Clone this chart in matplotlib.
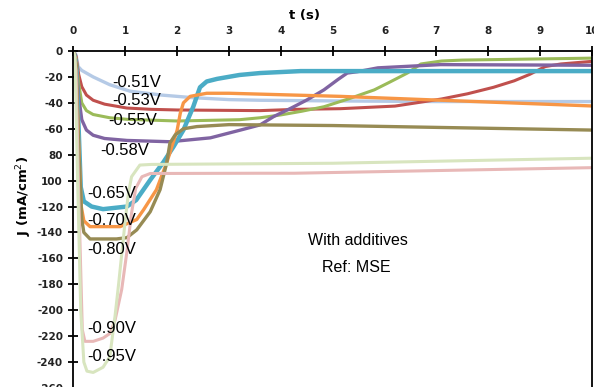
import matplotlib
matplotlib.use('Agg')
import matplotlib.pyplot as plt

# Current density transients J(t) at several potentials
t_051 = [0, 0.05, 0.09, 0.16, 0.38, 0.7, 1.09, 1.7, 2.3, 3.0, 3.6, 5.0, 7.0, 10.0]
j_051 = [0, -3, -12, -15, -20, -26, -31, -34, -36, -37.5, -38, -38.5, -39, -39]

t_053 = [0, 0.05, 0.1, 0.16, 0.25, 0.38, 0.6, 1.03, 1.5, 2.0, 3.6, 4.3, 5.15, 6.2,
         7.1, 7.6, 8.1, 8.5, 8.8, 9.1, 9.4, 10]
j_053 = [0, -4, -18, -27.5, -34, -38, -41, -44, -45, -45.5, -46, -45, -44.5, -42.5,
         -37, -33, -28, -23, -18, -12, -10, -8]

t_055 = [0, 0.05, 0.1, 0.16, 0.25, 0.38, 0.7, 1.03, 2.0, 3.2, 3.6, 4.0, 4.4, 4.83,
         5.3, 5.8, 6.1, 6.44, 6.7, 7.1, 7.5, 10]
j_055 = [0, -6, -25, -40, -46, -49, -51.5, -52.7, -54, -53, -51.5, -49.3, -46.5, -43,
         -37, -30, -24, -17, -10, -7.7, -7, -5.5]

t_058 = [0, 0.05, 0.1, 0.16, 0.25, 0.38, 0.6, 1.03, 1.86, 2.64, 3.22, 3.6, 3.86, 4.2,
         4.5, 4.83, 5.1, 5.28, 5.47, 5.87, 7.08, 10]
j_058 = [0, -8, -35, -53, -61, -65, -67.5, -69, -70, -67, -61, -57, -50.6, -44,
         -37.8, -30, -22, -17, -16, -13, -10.5, -11]

t_065 = [0, 0.05, 0.1, 0.14, 0.2, 0.35, 0.57, 1.03, 1.21, 1.48, 1.73, 1.93, 2.12,
         2.31, 2.44, 2.57, 2.77, 3.2, 3.6, 4.38, 10]
j_065 = [0, -10, -60, -105, -116, -120, -122, -120, -115, -99.5, -86, -73.8, -61,
         -43, -28, -23.5, -21.5, -18.5, -17, -15.5, -15.5]

t_070 = [0, 0.05, 0.1, 0.15, 0.2, 0.32, 0.9, 1.22, 1.35, 1.6, 1.8, 2.0, 2.06, 2.12,
         2.25, 2.57, 3.0, 5.15, 7.1, 10]
j_070 = [0, -10, -70, -120, -131, -135.5, -135.5, -130, -122.6, -107, -86, -61, -48,
         -40, -35, -32.6, -32.6, -35, -38, -42.4]

t_080 = [0, 0.05, 0.1, 0.16, 0.2, 0.32, 0.83, 1.03, 1.22, 1.48, 1.67, 1.8, 1.86, 1.96,
         2.12, 2.38, 3.0, 5.0, 7.1, 10]
j_080 = [0, -10, -75, -130, -140, -145, -145, -144, -138, -124, -107, -86, -71, -64.8,
         -60, -58.3, -56.8, -57.5, -59, -61]

t_090 = [0, 0.05, 0.1, 0.17, 0.22, 0.38, 0.57, 0.7, 0.8, 0.93, 1.03, 1.12, 1.2, 1.32,
         1.48, 3.6, 4.26, 10]
j_090 = [0, -15, -110, -215, -224, -224, -221.5, -218, -208, -184, -155, -125, -106,
         -97, -94.5, -94.3, -94.3, -90]

t_095 = [0, 0.03, 0.08, 0.14, 0.2, 0.26, 0.38, 0.57, 0.7, 0.8, 0.87, 1.0, 1.06, 1.12,
         1.28, 1.5, 5.0, 10]
j_095 = [0, -5, -100, -200, -240, -247, -248, -244, -236, -205, -180, -130, -109.6,
         -97, -88, -87.5, -86.6, -82.7]

labels = ['-0.51V', '-0.53V', '-0.55V', '-0.58V', '-0.65V', '-0.70V', '-0.80V',
          '-0.90V', '-0.95V']

x_ticks = list(range(0, 11))
y_ticks = list(range(0, -261, -20))
y_tick_labels = ['0', '-20', '-40', '-60', '80', '100', '-120', '-140', '-160',
                 '-180', '-200', '-220', '-240', '-260']

###################################################################################################

series = [(t_051, j_051), (t_053, j_053), (t_055, j_055), (t_058, j_058),
          (t_065, j_065), (t_070, j_070), (t_080, j_080), (t_090, j_090),
          (t_095, j_095)]
colors = ['#b5cae6', '#c0504d', '#9bbb59', '#8064a2', '#4bacc6', '#f79646',
          '#978b54', '#e8b8b7', '#d8e5bf']
widths = [2.4, 2.2, 2.2, 2.4, 3.2, 2.4, 2.4, 2.2, 2.2]

# Where the potential labels sit (data coords of their left/centre point)
label_pos = [(0.74, -24), (0.74, -38), (0.67, -54), (0.51, -76.5), (0.26, -110),
             (0.26, -130.5), (0.26, -153.5), (0.26, -214), (0.26, -236)]

fig = plt.figure(figsize=(5.94, 3.87), dpi=100)
ax = fig.add_axes([0.1237, -0.0026, 0.8729, 0.8708])

for (t, j), col, lw in zip(series, colors, widths):
    ax.plot(t, j, color=col, linewidth=lw, solid_capstyle='round',
            solid_joinstyle='round')

for lab, (x, y) in zip(labels, label_pos):
    ax.text(x, y, lab, fontsize=12, family='Liberation Sans', ha='left', va='center',
            color='black')

ax.text(5.49, -146, 'With additives', fontsize=11.5, family='Liberation Sans',
        ha='center', va='center')
ax.text(5.45, -167, 'Ref: MSE', fontsize=11.5, family='Liberation Sans',
        ha='center', va='center')

ax.set_xlim(0, 10)
ax.set_ylim(-260, 0)
ax.xaxis.tick_top()
ax.set_xticks(x_ticks)
ax.set_yticks(y_ticks)
ax.set_yticklabels(y_tick_labels)
ax.tick_params(axis='both', direction='inout', length=7, width=1.3, colors='black',
               labelsize=7.5, labelcolor='#222222')
ax.tick_params(axis='x', pad=7)
ax.tick_params(axis='y', pad=4)
for lbl in ax.get_xticklabels() + ax.get_yticklabels():
    lbl.set_fontweight('bold')

ax.spines['bottom'].set_visible(False)
for side in ['top', 'left', 'right']:
    ax.spines[side].set_linewidth(1.3)

ax.xaxis.set_label_position('top')
ax.set_xlabel('t (s)', fontsize=9.5, fontweight='bold')
ax.xaxis.label.set_va('center')
ax.xaxis.set_label_coords(0.446, 1.104)
ax.set_ylabel('J (mA/cm$^2$)', fontsize=9.5, fontweight='bold')
ax.yaxis.label.set_va('center')
ax.yaxis.set_label_coords(-0.096, 0.57)

fig.savefig('out.png', dpi=100)
